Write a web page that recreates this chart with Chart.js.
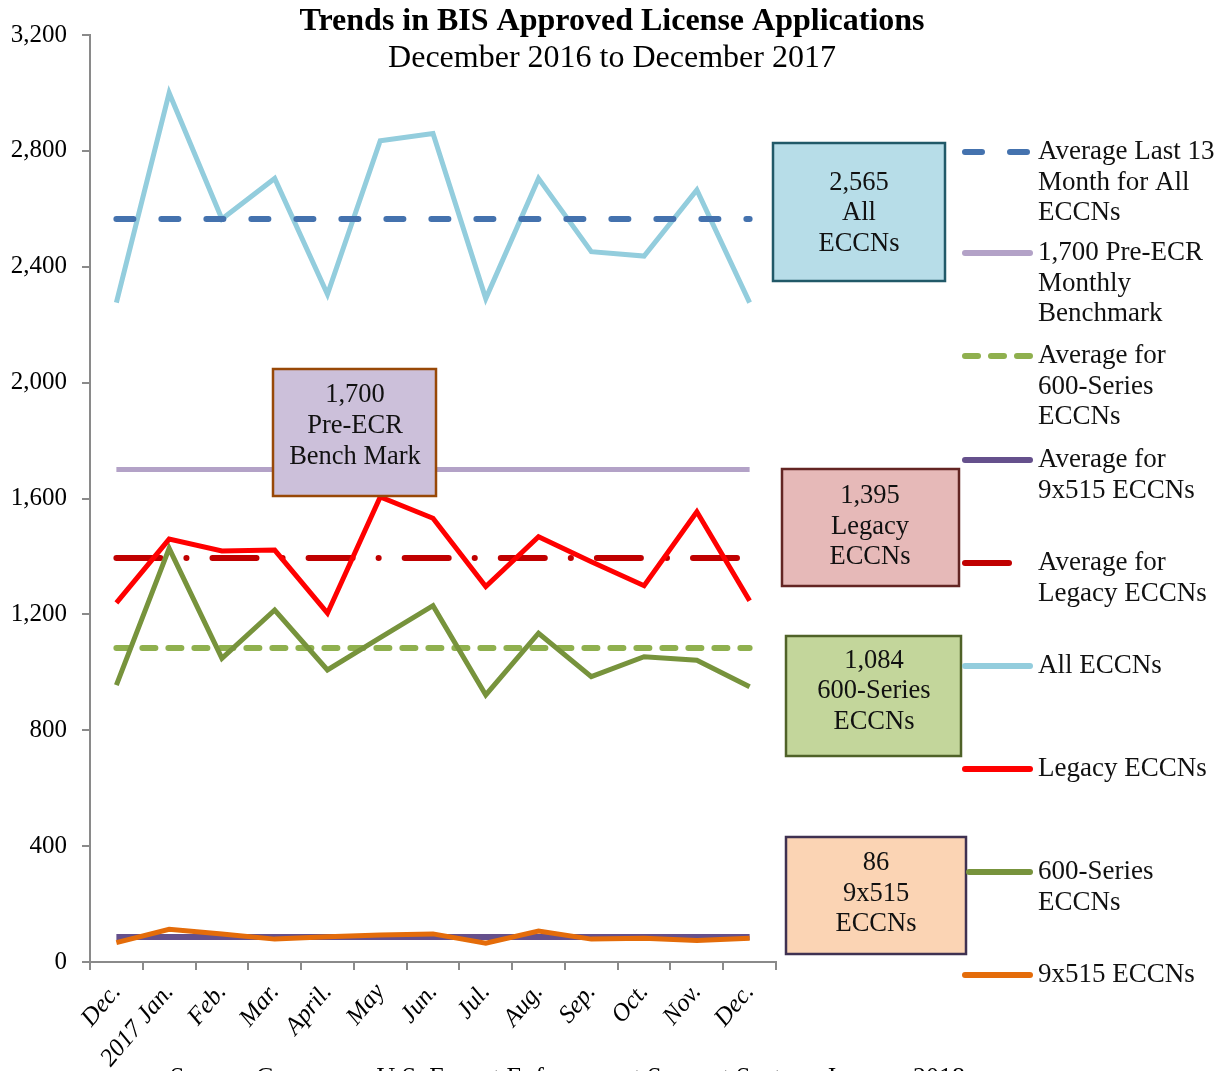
<!DOCTYPE html>
<html>
<head>
<meta charset="utf-8">
<script src="https://cdn.jsdelivr.net/npm/chart.js@4/dist/chart.umd.min.js"></script>
<style>
  html, body { margin: 0; padding: 0; background: #fff; }
  #wrap { position: relative; width: 1225px; height: 1071px; overflow: hidden; }
</style>
</head>
<body>
<div id="wrap"><canvas id="c" width="1225" height="1071"></canvas></div>
<script>
// ---------------- DATA ----------------
const categories = ['Dec.', '2017 Jan.', 'Feb.', 'Mar.', 'April.', 'May', 'Jun.', 'Jul.', 'Aug.', 'Sep.', 'Oct.', 'Nov.', 'Dec.'];
const allEccns   = [2276, 3000, 2565, 2705, 2305, 2835, 2860, 2290, 2705, 2452, 2437, 2665, 2276];
const legacyEccns = [1240, 1460, 1419, 1422, 1204, 1605, 1532, 1296, 1468, 1382, 1299, 1554, 1247];
const series600  = [956, 1428, 1048, 1215, 1008, 1120, 1230, 922, 1135, 985, 1054, 1042, 950];
const series9x515 = [67, 113, 97, 79, 87, 93, 97, 65, 107, 79, 82, 74, 82];
const avgAll = 2565;
const benchmark = 1700;
const avg600 = 1084;
const avg9x515 = 86;
const avgLegacy = 1395;
const yTicks = [0, 400, 800, 1200, 1600, 2000, 2400, 2800, 3200];

const titleText = 'Trends in BIS Approved License Applications';
const subtitleText = 'December 2016 to December 2017';
const sourceText = 'Source: Commerce U.S. Export Enforcement Support System, January 2018';

// ---------------- STYLE ----------------
const C = {
  all: '#93CDDD', avgAll: '#4472AE', bench: '#B3A2C7',
  avg600: '#8FB04E', avg515: '#65508C', avgLeg: '#C00000',
  legacy: '#FF0000', s600: '#77933C', s515: '#E46C0A', axis: '#8A8A8A'
};
const SERIF = '"Liberation Serif", "Times New Roman", serif';

// flat reference lines from the first to the last month (on a hidden linear axis aligned with the categories)
function flat(v) { return [{ x: 0, y: v }, { x: categories.length - 1, y: v }]; }

const datasets = [
  { label: 'Average Last 13 Month for All ECCNs', data: flat(avgAll), xAxisID: 'xa', borderColor: C.avgAll, borderWidth: 6, borderDash: [17, 28], borderCapStyle: 'round', order: 1 },
  { label: 'All ECCNs', data: allEccns, borderColor: C.all, borderWidth: 5, order: 2 },
  { label: '1,700 Pre-ECR Monthly Benchmark', data: flat(benchmark), xAxisID: 'xa', borderColor: C.bench, borderWidth: 5, order: 6 },
  { label: 'Average for Legacy ECCNs', data: flat(avgLegacy), xAxisID: 'xa', borderColor: C.avgLeg, borderWidth: 6, borderDash: [44, 26, 0.1, 26], borderCapStyle: 'round', order: 5 },
  { label: 'Legacy ECCNs', data: legacyEccns, borderColor: C.legacy, borderWidth: 5, order: 3 },
  { label: 'Average for 600-Series ECCNs', data: flat(avg600), xAxisID: 'xa', borderColor: C.avg600, borderWidth: 6, borderDash: [13, 13], borderCapStyle: 'round', order: 7 },
  { label: '600-Series ECCNs', data: series600, borderColor: C.s600, borderWidth: 5, order: 4 },
  { label: 'Average for 9x515 ECCNs', data: flat(avg9x515), xAxisID: 'xa', borderColor: C.avg515, borderWidth: 6, order: 9 },
  { label: '9x515 ECCNs', data: series9x515, borderColor: C.s515, borderWidth: 5, order: 8 }
];

// annotation boxes (pixel layout)
const boxes = [
  { x: 773, y: 143, w: 172, h: 138, fill: '#B7DDE8', stroke: '#215968', lines: ['2,565', 'All', 'ECCNs'], cx: 859, ty: [183, 213, 244] },
  { x: 273, y: 369, w: 163, h: 127, fill: '#CCC0DA', stroke: '#984807', lines: ['1,700', 'Pre-ECR', 'Bench Mark'], cx: 355, ty: [395, 426, 457] },
  { x: 782, y: 469, w: 177, h: 117, fill: '#E6B9B8', stroke: '#632523', lines: ['1,395', 'Legacy', 'ECCNs'], cx: 870, ty: [496, 527, 557] },
  { x: 786, y: 636, w: 175, h: 120, fill: '#C3D69B', stroke: '#4F6228', lines: ['1,084', '600-Series', 'ECCNs'], cx: 874, ty: [661, 691, 722] },
  { x: 786, y: 837, w: 180, h: 117, fill: '#FBD4B4', stroke: '#3F3151', lines: ['86', '9x515', 'ECCNs'], cx: 876, ty: [863, 894, 924] }
];

const legendItems = [
  { y: 152, x0: 962, x1: 1033, color: C.avgAll, dash: [17, 28], lines: ['Average Last 13', 'Month for All', 'ECCNs'] },
  { y: 253, x0: 962, x1: 1033, color: C.bench, dash: [], lines: ['1,700 Pre-ECR', 'Monthly', 'Benchmark'] },
  { y: 356, x0: 962, x1: 1033, color: C.avg600, dash: [13, 13], lines: ['Average for', '600-Series', 'ECCNs'] },
  { y: 460, x0: 962, x1: 1033, color: C.avg515, dash: [], lines: ['Average for', '9x515 ECCNs'] },
  { y: 563, x0: 962, x1: 1012, color: C.avgLeg, dash: [], lines: ['Average for', 'Legacy ECCNs'] },
  { y: 666, x0: 962, x1: 1033, color: C.all, dash: [], lines: ['All ECCNs'] },
  { y: 769, x0: 962, x1: 1033, color: C.legacy, dash: [], lines: ['Legacy ECCNs'] },
  { y: 872, x0: 966, x1: 1033, color: C.s600, dash: [], lines: ['600-Series', 'ECCNs'] },
  { y: 975, x0: 962, x1: 1033, color: C.s515, dash: [], lines: ['9x515 ECCNs'] }
];

const decor = {
  id: 'decor',
  afterDraw(chart) {
    const ctx = chart.ctx;
    ctx.save();
    // title
    ctx.fillStyle = '#000';
    ctx.textAlign = 'center';
    ctx.textBaseline = 'middle';
    ctx.font = 'bold 32px ' + SERIF;
    ctx.fillText(titleText, 612, 22);
    ctx.font = '32px ' + SERIF;
    ctx.fillText(subtitleText, 612, 59);
    // boxes
    boxes.forEach(b => {
      ctx.fillStyle = b.fill;
      ctx.fillRect(b.x, b.y, b.w, b.h);
      ctx.strokeStyle = b.stroke;
      ctx.lineWidth = 2.5;
      ctx.strokeRect(b.x, b.y, b.w, b.h);
      ctx.fillStyle = '#111';
      ctx.font = '26.5px ' + SERIF;
      ctx.textAlign = 'center';
      b.lines.forEach((t, i) => ctx.fillText(t, b.cx, b.ty[i]));
    });
    // legend
    legendItems.forEach(it => {
      ctx.beginPath();
      ctx.strokeStyle = it.color;
      ctx.lineWidth = 6;
      ctx.lineCap = 'round';
      ctx.setLineDash(it.dash);
      ctx.moveTo(it.x0 + 3, it.y);
      ctx.lineTo(it.x1 - 3, it.y);
      ctx.stroke();
      ctx.setLineDash([]);
      ctx.fillStyle = '#111';
      ctx.font = '27px ' + SERIF;
      ctx.textAlign = 'left';
      it.lines.forEach((t, i) => ctx.fillText(t, 1038, it.y + i * 30.5));
    });
    // source (clipped at bottom)
    ctx.font = '26px ' + SERIF;
    ctx.textAlign = 'left';
    ctx.textBaseline = 'alphabetic';
    ctx.fillStyle = '#000';
    ctx.fillText(sourceText, 170, 1085);
    ctx.restore();
  }
};

new Chart(document.getElementById('c'), {
  type: 'line',
  data: { labels: categories, datasets },
  options: {
    responsive: false,
    animation: false,
    layout: { padding: { left: 0, top: 35, right: 449, bottom: 0 } },
    elements: { point: { radius: 0 }, line: { tension: 0, fill: false } },
    plugins: { legend: { display: false }, tooltip: { enabled: false }, title: { display: false } },
    scales: {
      x: {
        type: 'category',
        offset: true,
        grid: { offset: true, drawOnChartArea: false, drawTicks: true, tickLength: 8, color: C.axis, lineWidth: 2 },
        border: { color: C.axis, width: 2 },
        ticks: { autoSkip: false, maxRotation: 50, minRotation: 50, padding: 8, color: '#000', font: { family: SERIF, size: 25, style: 'italic' } },
        afterFit: s => { s.height = 109; }
      },
      xa: {
        type: 'linear',
        display: false,
        min: -0.5,
        max: categories.length - 0.5,
        afterFit: s => { s.height = 0; }
      },
      y: {
        min: 0, max: 3200,
        afterBuildTicks: s => { s.ticks = yTicks.map(v => ({ value: v })); },
        grid: { drawOnChartArea: false, drawTicks: true, tickLength: 8, color: C.axis, lineWidth: 2 },
        border: { color: C.axis, width: 2 },
        ticks: { padding: 15, color: '#000', font: { family: SERIF, size: 25 }, callback: v => v.toLocaleString('en-US') },
        afterFit: s => { s.width = 90; }
      }
    }
  },
  plugins: [decor]
});
</script>
</body>
</html>
